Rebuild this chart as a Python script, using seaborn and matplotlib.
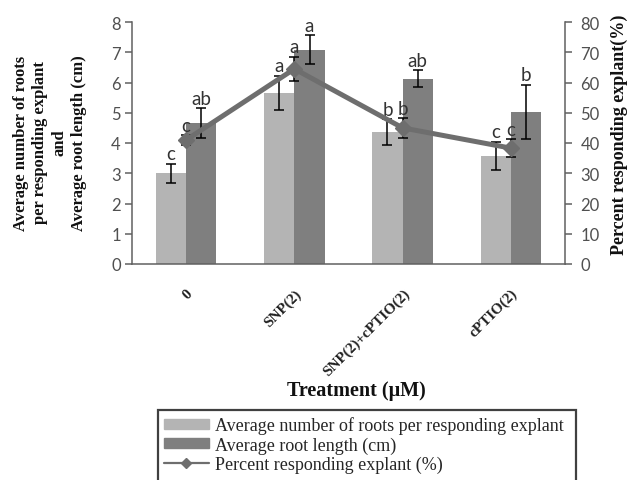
import pandas as pd
import matplotlib
matplotlib.use('Agg')
import matplotlib.pyplot as plt
from matplotlib.lines import Line2D
from matplotlib.patches import Patch, Rectangle
import seaborn as sns

# Data
treatments = ['0', 'SNP(2)', 'SNP(2)+cPTIO(2)', 'cPTIO(2)']
roots = [3.0, 5.65, 4.36, 3.57]
roots_err = [0.32, 0.57, 0.42, 0.47]
root_length = [4.65, 7.08, 6.13, 5.03]
root_length_err = [0.5, 0.48, 0.28, 0.9]
percent = [41, 64.5, 45, 38.3]
percent_err = [1.5, 4, 3.3, 3]
letters_roots = ['c', 'a', 'b', 'c']
letters_length = ['ab', 'a', 'ab', 'b']
letters_percent = ['c', 'a', 'b', 'c']

series_names = ['Average number of roots per responding explant', 'Average root length (cm)']
line_name = 'Percent responding explant (%)'
light = '#b4b4b4'
dark = '#7f7f7f'
line_col = '#6e6e6e'

df = pd.DataFrame({
    'treatment': treatments * 2,
    'value': roots + root_length,
    'series': [series_names[0]] * 4 + [series_names[1]] * 4,
})

sns.set_style('white')
plt.rcParams['font.family'] = ['Lato', 'DejaVu Sans']

fig = plt.figure(figsize=(6.27, 4.81), dpi=100)
ax = fig.add_axes([132 / 627, 1 - 265 / 481, (565 - 132) / 627, (265 - 23) / 481])

sns.barplot(data=df, x='treatment', y='value', hue='series', order=treatments,
            hue_order=series_names, palette=[light, dark], width=0.56,
            errorbar=None, legend=False, ax=ax, saturation=1, linewidth=0)

# error bars + letters on the bars (patch order: series 0 bars, then series 1 bars)
bars = ax.patches
vals = [roots, root_length]
errs = [roots_err, root_length_err]
lets = [letters_roots, letters_length]
for s in range(2):
    for i in range(4):
        p = bars[s * 4 + i]
        xc = p.get_x() + p.get_width() / 2
        ax.errorbar(xc, vals[s][i], yerr=errs[s][i], color='black', capsize=3.8,
                    elinewidth=1.1, capthick=1.1, fmt='none', zorder=3)
        ax.annotate(lets[s][i], (xc, vals[s][i] + errs[s][i]), xytext=(0, 1),
                    textcoords='offset points', ha='center', va='bottom',
                    fontsize=13.5, color='#333333')

ax.set_ylim(0, 8)
ax.set_xlim(-0.5, 3.5)
ax.set_yticks(range(0, 9))
ax.set_xlabel('')
ax.set_ylabel('')
ax.set_xticks(range(4))
ax.set_xticklabels(treatments, rotation=45, ha='right', rotation_mode='anchor',
                   family='Liberation Serif', fontweight='bold', fontsize=11, color='#222222')
ax.set_xticks([0.5, 1.5, 2.5], minor=True)
ax.tick_params(axis='x', which='major', length=0, pad=16)
ax.tick_params(axis='x', which='minor', length=5, width=1.1, color='#606060', direction='out')
ax.tick_params(axis='y', length=5, width=1.1, color='#606060', direction='out',
               labelsize=12, labelcolor='#505050', pad=3)
for side in ['top', 'right']:
    ax.spines[side].set_visible(False)
for side in ['left', 'bottom']:
    ax.spines[side].set_color('#606060')
    ax.spines[side].set_linewidth(1.1)

# percent line on secondary axis
ax2 = ax.twinx()
ax2.plot(range(4), percent, color=line_col, linewidth=3.6, marker='D',
         markersize=8, zorder=4)
ax2.errorbar(range(4), percent, yerr=percent_err, color='black', capsize=3.8,
             elinewidth=1.1, capthick=1.1, fmt='none', zorder=3)
for i in range(4):
    ax2.annotate(letters_percent[i], (i, percent[i] + percent_err[i]), xytext=(0, 1),
                 textcoords='offset points', ha='center', va='bottom',
                 fontsize=13.5, color='#333333')
ax2.set_ylim(0, 80)
ax2.set_yticks(range(0, 81, 10))
ax2.tick_params(axis='y', length=5, width=1.1, color='#606060', direction='out',
                labelsize=12, labelcolor='#505050', pad=6)
for side in ['top', 'left', 'bottom']:
    ax2.spines[side].set_visible(False)
ax2.spines['right'].set_color('#606060')
ax2.spines['right'].set_linewidth(1.1)
ax2.set_ylabel('')

# axis titles
fig.text(50 / 627, 1 - 143 / 481,
         'Average number of roots\nper responding explant\nand\nAverage root length (cm)',
         rotation=90, ha='center', va='center', ma='center', family='Liberation Serif',
         fontweight='bold', fontsize=12, linespacing=1.3, color='#111111')
fig.text(619 / 627, 1 - 135 / 481, 'Percent responding explant(%)', rotation=90,
         ha='center', va='center', family='Liberation Serif', fontweight='bold',
         fontsize=13, color='#111111')
fig.text(356 / 627, 1 - 391 / 481, 'Treatment (\u03bcM)', ha='center', va='center',
         family='Liberation Serif', fontweight='bold', fontsize=14.5, color='#111111')

# legend (frame drawn separately so it runs off the bottom edge like the reference)
fig.patches.append(Rectangle((158 / 627, -0.02), (576 - 158) / 627, 0.02 + (481 - 411) / 481,
                             transform=fig.transFigure, fill=False, edgecolor='#404040',
                             linewidth=1.6))
handles = [Patch(color=light), Patch(color=dark),
           Line2D([], [], color=line_col, linewidth=1.6, marker='D', markersize=5)]
labels = series_names + [line_name]
leg = fig.legend(handles, labels, loc='upper left',
                 bbox_to_anchor=(160 / 627, 1 - 414 / 481),
                 frameon=False, borderaxespad=0,
                 prop={'family': 'Liberation Serif', 'size': 13}, handlelength=2.5,
                 handleheight=0.45, labelspacing=0.1, handletextpad=0.35,
                 borderpad=0.2)

fig.savefig('out.png', dpi=100)
